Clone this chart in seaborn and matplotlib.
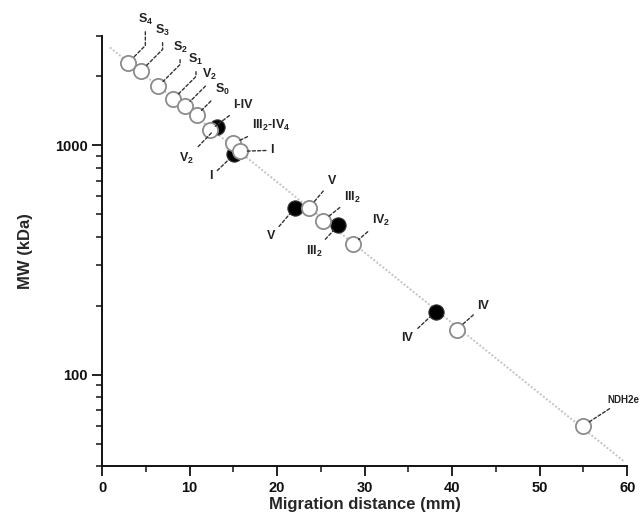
import numpy as np
import matplotlib
matplotlib.use("Agg")
import matplotlib.pyplot as plt
import matplotlib.ticker as ticker
import seaborn as sns
import pandas as pd

# complexes measured on the gel (open = standards / first dimension, filled = second)
open_labels = ['S$_4$', 'S$_3$', 'S$_2$', 'S$_1$', 'V$_2$', 'S$_0$', 'I-IV',
               'III$_2$-IV$_4$', 'I', 'V', 'III$_2$', 'IV$_2$', 'IV', 'NDH2e']
open_dist = [3.0, 4.4, 6.4, 8.1, 9.5, 10.8, 12.3, 15.0, 15.8, 23.6, 25.2, 28.7, 40.5, 55.0]
open_mw = [2296, 2100, 1806, 1585, 1480, 1352, 1161, 1020, 942, 532, 467, 371, 157, 60]

filled_labels = ['V$_2$', 'I', 'V', 'III$_2$', 'IV']
filled_dist = [13.1, 15.1, 22.0, 27.0, 38.1]
filled_mw = [1197, 914, 532, 449, 188]

fit_range = [0.9, 59.6]

# label offsets in pixels (dx, dy) from the marker; angled leaders for the stacked top labels
open_off = [(17, 43), (22, 41), (22, 39), (23, 40), (24, 32), (26, 26), (33, 25),
            (38, 18), (32, 1), (23, 27), (30, 24), (28, 24), (27, 24), (40, 26)]
open_bent = [True, True, True, True, True, False, False,
             False, False, False, False, False, False, False]
filled_off = [(-30, -31), (-23, -22), (-24, -28), (-24, -26), (-28, -26)]

sns.set_style("ticks")
plt.rcParams['font.family'] = ['Liberation Sans', 'DejaVu Sans']
plt.rcParams['font.weight'] = 'bold'
plt.rcParams['mathtext.fontset'] = 'custom'
plt.rcParams['mathtext.rm'] = 'Liberation Sans:bold'
plt.rcParams['mathtext.bf'] = 'Liberation Sans:bold'
plt.rcParams['mathtext.default'] = 'bf'

fig = plt.figure(figsize=(6.42, 5.28), dpi=100)
ax = fig.add_axes([0.159, 0.1174, 0.818, 0.8146])

df_open = pd.DataFrame({'dist': open_dist, 'mw': open_mw})
df_fill = pd.DataFrame({'dist': filled_dist, 'mw': filled_mw})

# calibration line through the open points
b, a = np.polyfit(df_open['dist'], np.log10(df_open['mw']), 1)
fx = np.array(fit_range)
df_fit = pd.DataFrame({'dist': fx, 'mw': 10 ** (a + b * fx)})
sns.lineplot(data=df_fit, x='dist', y='mw', ax=ax, color='#c4c4c4', lw=1.4,
             linestyle=(0, (1, 1)), zorder=1)

sns.scatterplot(data=df_fill, x='dist', y='mw', ax=ax, s=120, color='black',
                edgecolor='#333333', linewidth=0.8, zorder=3)
sns.scatterplot(data=df_open, x='dist', y='mw', ax=ax, s=120, color='white',
                edgecolor='#8c8c8c', linewidth=1.3, zorder=4)

def label(x, y, txt, off, size, bent=False):
    cs = 'angle,angleA=90,angleB=45,rad=0' if bent else 'arc3'
    ax.annotate(txt, xy=(x, y), xytext=off, textcoords='offset pixels',
                ha='center', va='center', fontsize=size, fontweight='bold',
                color='#222222', zorder=5,
                arrowprops=dict(arrowstyle='-', color='#333333', lw=1.0,
                                linestyle=(0, (2.2, 1.6)), shrinkA=1, shrinkB=5,
                                connectionstyle=cs))

for i, t in enumerate(open_labels):
    label(open_dist[i], open_mw[i], t, open_off[i], 7 if t == 'NDH2e' else 9, open_bent[i])
for i, t in enumerate(filled_labels):
    label(filled_dist[i], filled_mw[i], t, filled_off[i], 9)

ax.set_yscale('log')
ax.set_xlim(0, 60)
ax.set_ylim(40, 3000)
ax.xaxis.set_major_locator(ticker.MultipleLocator(10))
ax.xaxis.set_minor_locator(ticker.MultipleLocator(5))
ax.yaxis.set_major_locator(ticker.FixedLocator([100, 1000]))
ax.yaxis.set_major_formatter(ticker.FixedFormatter(['100', '1000']))
ax.yaxis.set_minor_locator(ticker.LogLocator(base=10, subs=np.arange(2, 10)))
ax.yaxis.set_minor_formatter(ticker.NullFormatter())

sns.despine(ax=ax)
for s in ['left', 'bottom']:
    ax.spines[s].set_linewidth(1.4)
    ax.spines[s].set_color('#111111')
ax.tick_params(which='major', length=7, width=1.3, labelsize=10.5, colors='#111111')
ax.tick_params(which='minor', length=4, width=1.1, colors='#111111')
for lab in ax.get_xticklabels() + ax.get_yticklabels():
    lab.set_fontweight('bold')

ax.set_xlabel('Migration distance (mm)', fontsize=12, fontweight='bold', labelpad=2)
ax.set_ylabel('MW (kDa)', fontsize=12, fontweight='bold', labelpad=16)

fig.savefig('out.png', dpi=100)
